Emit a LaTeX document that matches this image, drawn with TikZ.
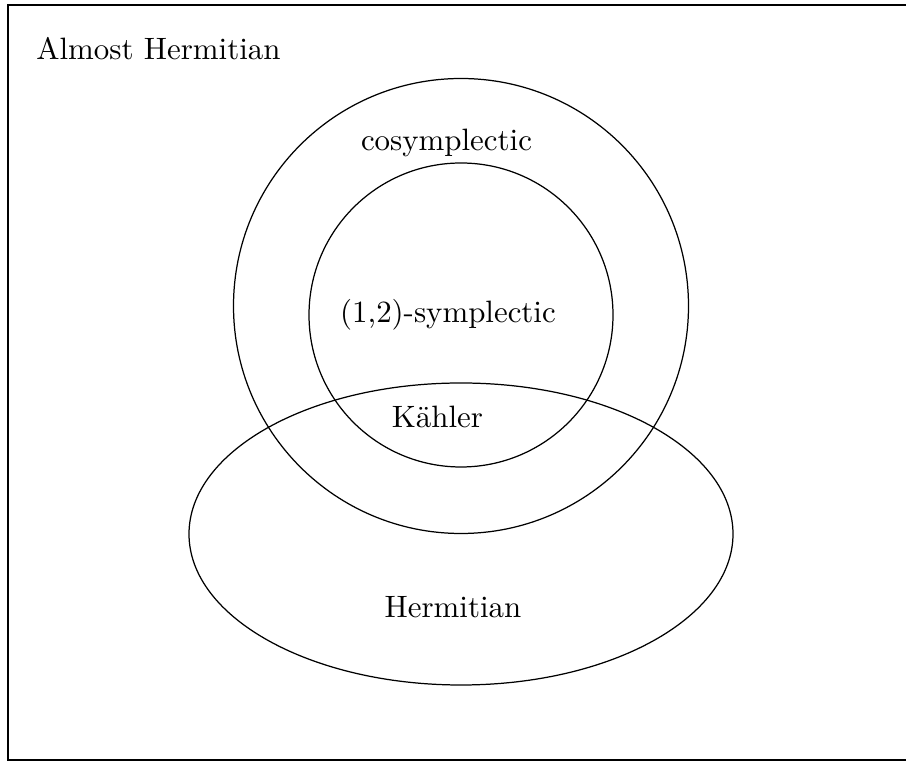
\documentclass[tikz,border=0pt]{standalone}
\begin{document}
\begin{tikzpicture}[x=0.3236pt,y=-0.3236pt,
  lbl/.style={anchor=base,inner sep=0pt,font=\normalsize}]
\useasboundingbox (0,0) rectangle (906,761);
\begin{scope}
\clip (0,0) rectangle (906,761);
\draw (8,5) rectangle (960,760);
\end{scope}
\draw (461,306) circle [radius=227.5*0.3236pt];
\draw (461,315) circle [radius=152*0.3236pt];
\draw (461,534) ellipse [x radius=272*0.3236pt, y radius=151*0.3236pt];
\node[lbl] (ah) at (158.5,60) {Almost Hermitian};
\node[lbl] (cs) at (446.5,151) {cosymplectic};
\node[lbl] (os) at (448,323) {(1,2)-symplectic};
\node[lbl] (ka) at (437.5,428) {K\"ahler};
\node[lbl] (he) at (453,618) {Hermitian};
\end{tikzpicture}
\end{document}
